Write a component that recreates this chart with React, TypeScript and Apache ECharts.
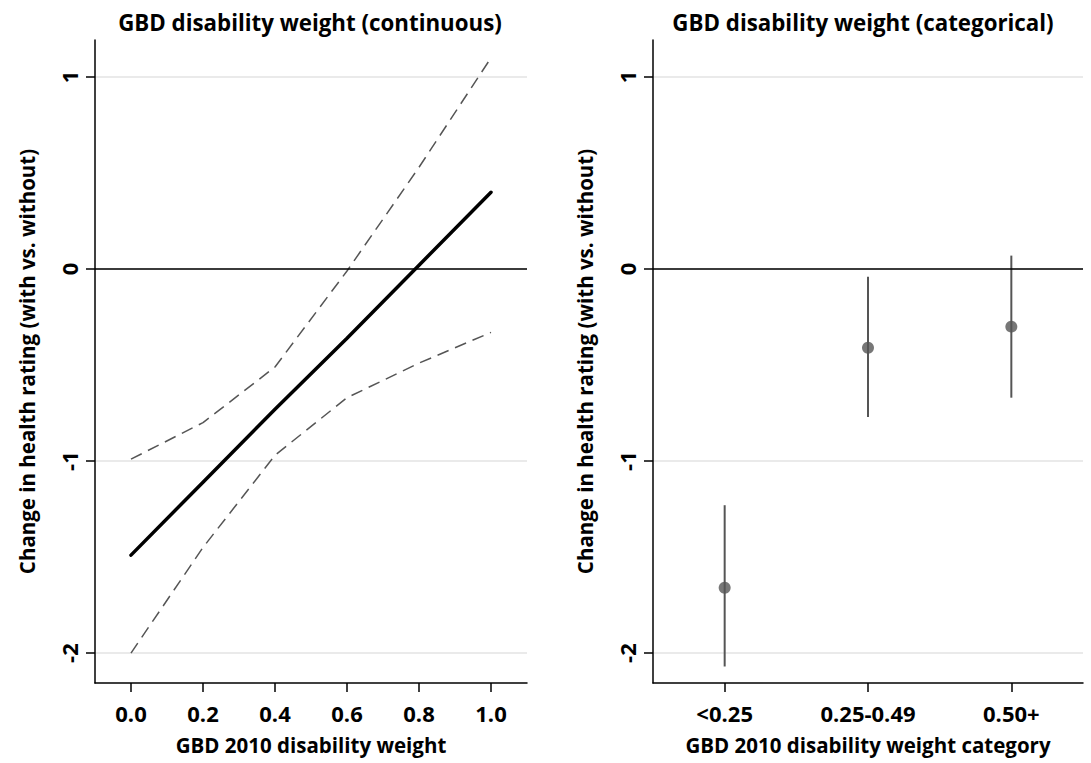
import React, { useEffect, useRef } from "react";
import * as echarts from "echarts";

// Left panel: continuous disability weight (marginal predictions)
const xValues = [0, 0.2, 0.4, 0.6, 0.8, 1.0];
const fitValues = [-1.49, -1.11, -0.73, -0.36, 0.02, 0.4];
const upperCI = [-0.99, -0.8, -0.51, -0.01, 0.53, 1.1];
const lowerCI = [-2.0, -1.45, -0.97, -0.67, -0.49, -0.33];

// Right panel: categorical disability weight
const categories = ["<0.25", "0.25-0.49", "0.50+"];
const catEstimates = [-1.66, -0.41, -0.3];
const catLower = [-2.07, -0.77, -0.67];
const catUpper = [-1.23, -0.04, 0.07];

// Tick labels
const yTicks = [-2, -1, 0, 1];
const xTicks = [0, 0.2, 0.4, 0.6, 0.8, 1.0];

const FONT = "'Open Sans'";
const titles = ["GBD disability weight (continuous)", "GBD disability weight (categorical)"];
const xNames = ["GBD 2010 disability weight", "GBD 2010 disability weight category"];
const yName = "Change in health rating (with vs. without)";

export default function App() {
  const ref = useRef<HTMLDivElement>(null);
  useEffect(() => {
    if (!ref.current) return;
    const chart = echarts.init(ref.current, null, { renderer: "svg" });
    const textBase = { fontFamily: FONT, fontWeight: "bold" as const, color: "#000" };
    const axisLineX = { show: true, onZero: false, lineStyle: { color: "#000", width: 1.5 } };
    const axisTick = { show: true, length: 9, lineStyle: { color: "#000", width: 1.5 } };
    const yAxisCommon = (gridIndex: number) => ({
      type: "value",
      gridIndex,
      min: -2.156,
      max: 1.193,
      name: yName,
      nameLocation: "middle",
      nameGap: 58,
      nameTextStyle: { ...textBase, fontSize: 20.5 },
      axisLine: { show: true, onZero: false, lineStyle: { color: "#000", width: 1.5 } },
      axisTick: { ...axisTick, customValues: yTicks },
      axisLabel: {
        ...textBase,
        fontSize: 22,
        rotate: 90,
        margin: 15,
        customValues: yTicks,
        formatter: (v: number) => String(Math.round(v)),
      },
      splitLine: { show: true, lineStyle: { color: "#e3e3e3", width: 1.5 } },
    });
    const zeroLine = {
      silent: true,
      symbol: ["none", "none"],
      label: { show: false },
      lineStyle: { color: "#000", width: 1.5, type: "solid" },
      data: [{ yAxis: 0 }],
    };
    const option: any = {
      animation: false,
      backgroundColor: "#fff",
      grid: [
        { left: 95, top: 40, width: 432, height: 643 },
        { left: 653, top: 40, width: 430, height: 643 },
      ],
      graphic: [
        {
          type: "text",
          x: 0,
          y: 0,
          style: { text: titles[0], x: 310, y: 22, font: `bold 22.3px ${FONT}`, fill: "#000", align: "center", verticalAlign: "middle" },
        },
        {
          type: "text",
          x: 0,
          y: 0,
          style: { text: titles[1], x: 863, y: 22, font: `bold 22.3px ${FONT}`, fill: "#000", align: "center", verticalAlign: "middle" },
        },
      ],
      xAxis: [
        {
          type: "value",
          gridIndex: 0,
          min: -0.1,
          max: 1.1,
          name: xNames[0],
          nameLocation: "middle",
          nameGap: 51,
          nameTextStyle: { ...textBase, fontSize: 20.5 },
          axisLine: axisLineX,
          axisTick: { ...axisTick, customValues: xTicks },
          axisLabel: {
            ...textBase,
            fontSize: 22,
            margin: 19,
            customValues: xTicks,
            formatter: (v: number) => v.toFixed(1),
          },
          splitLine: { show: false },
        },
        {
          type: "category",
          gridIndex: 1,
          data: categories,
          boundaryGap: true,
          name: xNames[1],
          nameLocation: "middle",
          nameGap: 51,
          nameTextStyle: { ...textBase, fontSize: 20.5 },
          axisLine: axisLineX,
          axisTick: { ...axisTick, alignWithLabel: true },
          axisLabel: { ...textBase, fontSize: 22, margin: 19 },
          splitLine: { show: false },
        },
      ],
      yAxis: [yAxisCommon(0), yAxisCommon(1)],
      series: [
        {
          type: "line",
          xAxisIndex: 0,
          yAxisIndex: 0,
          data: xValues.map((x, i) => [x, upperCI[i]]),
          symbol: "none",
          lineStyle: { color: "#555", width: 1.5, type: [12, 7] },
          markLine: zeroLine,
          z: 3,
        },
        {
          type: "line",
          xAxisIndex: 0,
          yAxisIndex: 0,
          data: xValues.map((x, i) => [x, lowerCI[i]]),
          symbol: "none",
          lineStyle: { color: "#555", width: 1.5, type: [12, 7] },
          z: 3,
        },
        {
          type: "line",
          xAxisIndex: 0,
          yAxisIndex: 0,
          data: xValues.map((x, i) => [x, fitValues[i]]),
          symbol: "none",
          lineStyle: { color: "#000", width: 3.5, cap: "round" },
          z: 4,
        },
        {
          type: "custom",
          xAxisIndex: 1,
          yAxisIndex: 1,
          data: categories.map((_, i) => [i, catLower[i], catUpper[i]]),
          renderItem: (params: any, api: any) => {
            const idx = api.value(0);
            const p1 = api.coord([idx, api.value(1)]);
            const p2 = api.coord([idx, api.value(2)]);
            return {
              type: "line",
              shape: { x1: p1[0], y1: p1[1], x2: p2[0], y2: p2[1] },
              style: { stroke: "#555", lineWidth: 2 },
            };
          },
          markLine: zeroLine,
          z: 3,
        },
        {
          type: "scatter",
          xAxisIndex: 1,
          yAxisIndex: 1,
          data: categories.map((_, i) => [i, catEstimates[i]]),
          symbol: "circle",
          symbolSize: 12,
          itemStyle: { color: "#555" },
          z: 4,
        },
      ],
    };
    chart.setOption(option);
    return () => chart.dispose();
  }, []);
  return (
    <div
      ref={ref}
      style={{ position: "fixed", left: 0, top: 0, width: 1091, height: 763, background: "#fff" }}
    />
  );
}
